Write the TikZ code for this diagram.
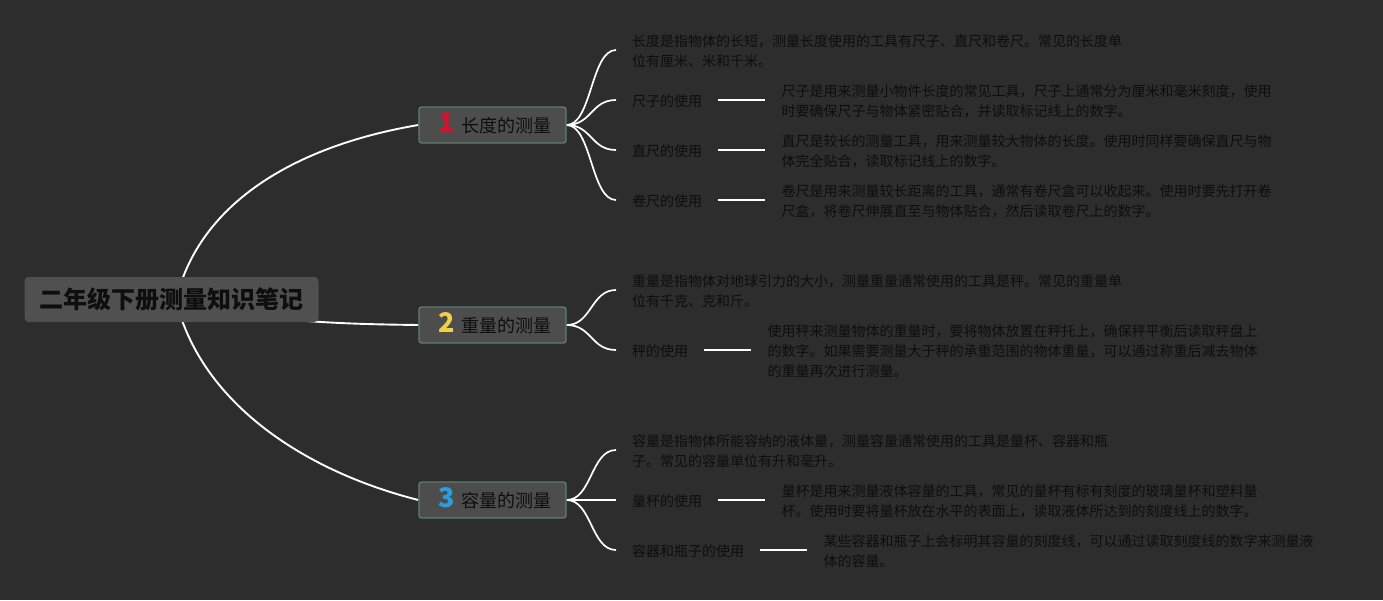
\documentclass[tikz,border=0pt]{standalone}
\usepackage{fontspec}
\setmainfont{Noto Sans CJK SC}
\usetikzlibrary{positioning}
\definecolor{bgc}{HTML}{2D2D2D}
\definecolor{rootfill}{HTML}{505050}
\definecolor{boxfill}{HTML}{4D4D4D}
\definecolor{boxline}{HTML}{5E7D70}
\definecolor{txt}{HTML}{0E0E0E}
\definecolor{numA}{HTML}{D4122F}
\definecolor{numB}{HTML}{F0D04A}
\definecolor{numC}{HTML}{2A9FE0}
\pgfdeclarelayer{bglayer}
\pgfdeclarelayer{edgelayer}
\pgfsetlayers{bglayer,edgelayer,main}
\tikzset{
  rootbox/.style={fill=rootfill, rounded corners=4pt, minimum width=294pt, minimum height=45pt, inner sep=0pt, text=txt, font=\fontsize{24}{28}\selectfont\bfseries},
  topicbox/.style={fill=boxfill, draw=boxline, line width=1.3pt, rounded corners=2.5pt, minimum width=147pt, minimum height=36pt, inner sep=0pt},
  topicnum/.style={inner sep=0pt, font=\fontsize{27}{27}\selectfont\bfseries},
  topictext/.style={inner sep=0pt, anchor=west, text=txt, font=\fontsize{18}{22}\selectfont},
  leaf/.style={anchor=west, inner xsep=16pt, inner ysep=0pt, align=left, text=txt, font=\fontsize{14}{20}\selectfont},
  desc/.style={inner xsep=16pt, inner ysep=0pt, align=left, text=txt, font=\fontsize{14}{20}\selectfont},
  branch/.style={draw=white, line width=1.9pt},
  twig/.style={draw=white, line width=1.7pt},
}
\begin{document}
\begin{tikzpicture}[x=1pt,y=-1pt]
\useasboundingbox (0,0) rectangle (1383,600);
\begin{pgfonlayer}{bglayer}
\fill[bgc] (0,0) rectangle (1383,600);
\end{pgfonlayer}

% root
\node[rootbox] (root) at (171.5,299.5) {二年级下册测量知识笔记};
\coordinate (hub) at (176,300);

% topic boxes
\node[topicbox] (b1) at (492.5,125) {};
\node[topicnum, text=numA] (n1) at (447,123) {1};
\node[topictext] (t1) at (461,126) {长度的测量};
\node[topicbox] (b2) at (492.5,325) {};
\node[topicnum, text=numB] (n2) at (447,323) {2};
\node[topictext] (t2) at (461,326) {重量的测量};
\node[topicbox] (b3) at (492.5,500) {};
\node[topicnum, text=numC] (n3) at (447,498) {3};
\node[topictext] (t3) at (461,501) {容量的测量};

% topic 1
\node[leaf] (l11) at (616,51) {长度是指物体的长短，测量长度使用的工具有尺子、直尺和卷尺。常见的长度单\\位有厘米、米和千米。};
\node[leaf] (u11) at (616,101) {尺子的使用};
\node[desc, right=47pt of u11] (d11) {尺子是用来测量小物件长度的常见工具，尺子上通常分为厘米和毫米刻度，使用\\时要确保尺子与物体紧密贴合，并读取标记线上的数字。};
\node[leaf] (u12) at (616,151) {直尺的使用};
\node[desc, right=47pt of u12] (d12) {直尺是较长的测量工具，用来测量较大物体的长度。使用时同样要确保直尺与物\\体完全贴合，读取标记线上的数字。};
\node[leaf] (u13) at (616,201) {卷尺的使用};
\node[desc, right=47pt of u13] (d13) {卷尺是用来测量较长距离的工具，通常有卷尺盒可以收起来。使用时要先打开卷\\尺盒，将卷尺伸展直至与物体贴合，然后读取卷尺上的数字。};

% topic 2
\node[leaf] (l21) at (616,291) {重量是指物体对地球引力的大小，测量重量通常使用的工具是秤。常见的重量单\\位有千克、克和斤。};
\node[leaf] (u21) at (616,351) {秤的使用};
\node[desc, right=47pt of u21] (d21) {使用秤来测量物体的重量时，要将物体放置在秤托上，确保秤平衡后读取秤盘上\\的数字。如果需要测量大于秤的承重范围的物体重量，可以通过称重后减去物体\\的重量再次进行测量。};

% topic 3
\node[leaf] (l31) at (616,451) {容量是指物体所能容纳的液体量，测量容量通常使用的工具是量杯、容器和瓶\\子。常见的容量单位有升和毫升。};
\node[leaf] (u31) at (616,501) {量杯的使用};
\node[desc, right=47pt of u31] (d31) {量杯是用来测量液体容量的工具，常见的量杯有标有刻度的玻璃量杯和塑料量\\杯。使用时要将量杯放在水平的表面上，读取液体所达到的刻度线上的数字。};
\node[leaf] (u32) at (616,551) {容器和瓶子的使用};
\node[desc, right=47pt of u32] (d32) {某些容器和瓶子上会标明其容量的刻度线，可以通过读取刻度线的数字来测量液\\体的容量。};

\begin{pgfonlayer}{edgelayer}
% root to topics
\draw[branch] (hub) .. controls (200,200) and (300,145) .. (b1.west);
\draw[branch] (hub) .. controls (260,322) and (340,324) .. (b2.west);
\draw[branch] (hub) .. controls (200,400) and (300,470) .. (b3.west);
% topics to leaves
\foreach \a/\b in {b1/l11,b1/u11,b1/u12,b1/u13,b2/l21,b2/u21,b3/l31,b3/u31,b3/u32}
  \draw[twig] (\a.east) .. controls +(25,0) and +(-25,0) .. ([yshift=1pt]\b.west);
% usage to description
\foreach \a/\b in {u11/d11,u12/d12,u13/d13,u21/d21,u31/d31,u32/d32}
  \draw[twig] ([yshift=1pt]\a.east) -- ([yshift=1pt]\a.east -| \b.west);
\end{pgfonlayer}
\end{tikzpicture}
\end{document}
